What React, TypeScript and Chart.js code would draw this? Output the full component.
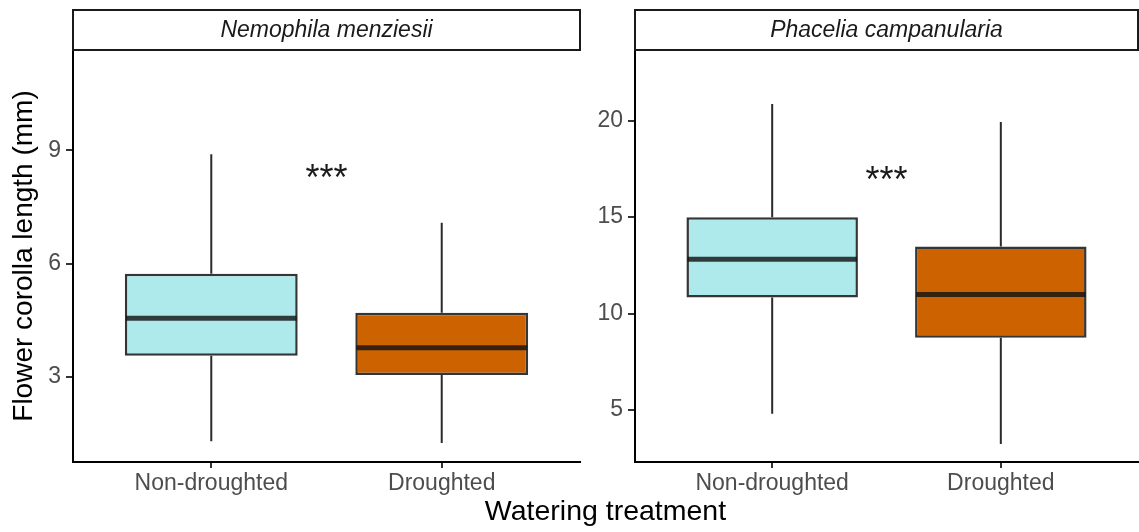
import React, { useEffect, useRef } from "react";
import { Chart, registerables } from "chart.js";

Chart.register(...registerables);

const FONT = '"Liberation Sans", Arial, Helvetica, sans-serif';

// Watering treatments (x categories) and their box fills
const categories = ["Non-droughted", "Droughted"];
const boxFills = ["#AEEAEC", "#CD6200"];

// Nemophila menziesii: five-number summaries per treatment (mm)
const nemophilaMin = [1.3, 1.25];
const nemophilaQ1 = [3.56, 3.05];
const nemophilaMedian = [4.55, 3.77];
const nemophilaQ3 = [5.73, 4.7];
const nemophilaMax = [8.89, 7.08];
const nemophilaTicks = [3, 6, 9];
const nemophilaRange = [0.75, 11.65];
const nemophilaSignifY = 8.2;

// Phacelia campanularia: five-number summaries per treatment (mm)
const phaceliaMin = [4.8, 3.24];
const phaceliaQ1 = [10.83, 8.75];
const phaceliaMedian = [12.81, 10.99];
const phaceliaQ3 = [14.99, 13.48];
const phaceliaMax = [20.87, 19.93];
const phaceliaTicks = [5, 10, 15, 20];
const phaceliaRange = [2.3, 23.67];
const phaceliaSignifY = 16.8;

const signifLabel = "***";
const yTitle = "Flower corolla length (mm)";
const xTitle = "Watering treatment";

type PanelProps = {
  species: string;
  min: number[];
  q1: number[];
  median: number[];
  q3: number[];
  max: number[];
  ticks: number[];
  range: number[];
  signifY: number;
  showYTitle: boolean;
  left: number;
  width: number;
  padRight: number;
  yAxisWidth: number;
};

function Panel(p: PanelProps) {
  const ref = useRef<HTMLCanvasElement>(null);

  useEffect(() => {
    const canvas = ref.current;
    if (!canvas) return;

    // whiskers, medians, significance stars and the facet strip
    const boxplotExtras = {
      id: "boxplotExtras",
      beforeDatasetsDraw(chart: any) {
        const { ctx, scales } = chart;
        const x = scales.x;
        const y = scales.y;
        ctx.save();
        ctx.strokeStyle = "#2B2B2B";
        ctx.lineWidth = 2;
        p.min.forEach((lo: number, i: number) => {
          const px = x.getPixelForValue(i);
          ctx.beginPath();
          ctx.moveTo(px, y.getPixelForValue(p.max[i]));
          ctx.lineTo(px, y.getPixelForValue(p.q3[i]));
          ctx.moveTo(px, y.getPixelForValue(p.q1[i]));
          ctx.lineTo(px, y.getPixelForValue(lo));
          ctx.stroke();
        });
        ctx.restore();
      },
      afterDatasetsDraw(chart: any) {
        const { ctx, scales } = chart;
        const x = scales.x;
        const y = scales.y;
        const meta = chart.getDatasetMeta(0);
        ctx.save();
        ctx.strokeStyle = "rgba(20,20,20,0.82)";
        ctx.lineWidth = 5;
        meta.data.forEach((bar: any, i: number) => {
          const { x: cx, width } = bar.getProps(["x", "width"], true);
          const py = y.getPixelForValue(p.median[i]);
          ctx.beginPath();
          ctx.moveTo(cx - width / 2 + 1, py);
          ctx.lineTo(cx + width / 2 - 1, py);
          ctx.stroke();
        });
        ctx.fillStyle = "#1A1A1A";
        ctx.font = `36px ${FONT}`;
        ctx.textAlign = "center";
        ctx.textBaseline = "middle";
        ctx.fillText(signifLabel, x.getPixelForValue(0.5), y.getPixelForValue(p.signifY));
        ctx.restore();
      },
      afterDraw(chart: any) {
        const { ctx, chartArea } = chart;
        const { left, right, top } = chartArea;
        const stripTop = 10;
        ctx.save();
        ctx.fillStyle = "#FFFFFF";
        ctx.fillRect(left, stripTop, right - left, top - stripTop);
        ctx.strokeStyle = "#1A1A1A";
        ctx.lineWidth = 2;
        ctx.strokeRect(left, stripTop, right - left, top - stripTop);
        ctx.fillStyle = "#1A1A1A";
        ctx.font = `italic 23px ${FONT}`;
        ctx.textAlign = "center";
        ctx.textBaseline = "middle";
        ctx.fillText(p.species, (left + right) / 2, (stripTop + top) / 2 + 1);
        ctx.restore();
      },
    };

    const tickFont = { family: FONT, size: 23 };

    const chart = new Chart(canvas, {
      type: "bar",
      data: {
        datasets: [
          {
            data: categories.map((_, i) => ({ x: i, y: [p.q1[i], p.q3[i]] })) as any,
            backgroundColor: boxFills,
            borderColor: "rgba(18,18,18,0.85)",
            borderWidth: 2.5,
            borderSkipped: false,
            barPercentage: 0.75,
            categoryPercentage: 1,
          },
        ],
      },
      options: {
        responsive: false,
        maintainAspectRatio: false,
        animation: false,
        events: [],
        layout: { padding: { left: 0, top: 50, right: p.padRight, bottom: 0 } },
        plugins: {
          legend: { display: false },
          tooltip: { enabled: false },
        },
        scales: {
          x: {
            type: "linear",
            min: -0.6,
            max: categories.length - 0.4,
            offset: false,
            afterBuildTicks: (s: any) => {
              s.ticks = categories.map((_, i) => ({ value: i }));
            },
            afterFit: (s: any) => {
              s.height = 70;
            },
            grid: {
              display: true,
              offset: false,
              drawOnChartArea: false,
              drawTicks: true,
              tickLength: 6,
              color: "#333333",
              lineWidth: 2,
            },
            border: { display: true, color: "#000000", width: 2 },
            ticks: {
              callback: (v: any) => categories[v] ?? "",
              font: tickFont,
              color: "#4D4D4D",
              padding: 2,
              maxRotation: 0,
              autoSkip: false,
            },
          },
          y: {
            type: "linear",
            min: p.range[0],
            max: p.range[1],
            afterBuildTicks: (s: any) => {
              s.ticks = p.ticks.map((v) => ({ value: v }));
            },
            afterFit: (s: any) => {
              s.width = p.yAxisWidth;
            },
            grid: {
              display: true,
              drawOnChartArea: false,
              drawTicks: true,
              tickLength: 7,
              color: "#333333",
              lineWidth: 2,
            },
            border: { display: true, color: "#000000", width: 2 },
            ticks: { font: tickFont, color: "#4D4D4D", padding: 5 },
            title: {
              display: p.showYTitle,
              text: yTitle,
              color: "#000000",
              font: { family: FONT, size: 28 },
              padding: { top: 7, bottom: 0 },
            },
          },
        },
      } as any,
      plugins: [boxplotExtras],
    });

    return () => chart.destroy();
  }, []);

  return (
    <canvas
      ref={ref}
      width={p.width}
      height={532}
      style={{ position: "absolute", left: p.left, top: 0, width: p.width, height: 532 }}
    />
  );
}

export default function App() {
  return (
    <div style={{ position: "fixed", left: 0, top: 0, width: 1139, height: 532, background: "#FFFFFF", overflow: "hidden" }}>
      <Panel
        species="Nemophila menziesii"
        min={nemophilaMin}
        q1={nemophilaQ1}
        median={nemophilaMedian}
        q3={nemophilaQ3}
        max={nemophilaMax}
        ticks={nemophilaTicks}
        range={nemophilaRange}
        signifY={nemophilaSignifY}
        showYTitle={true}
        left={0}
        width={600}
        padRight={20}
        yAxisWidth={73}
      />
      <Panel
        species="Phacelia campanularia"
        min={phaceliaMin}
        q1={phaceliaQ1}
        median={phaceliaMedian}
        q3={phaceliaQ3}
        max={phaceliaMax}
        ticks={phaceliaTicks}
        range={phaceliaRange}
        signifY={phaceliaSignifY}
        showYTitle={false}
        left={560}
        width={579}
        padRight={1}
        yAxisWidth={75}
      />
      <div
        style={{
          position: "absolute",
          left: 73,
          width: 1065,
          top: 496,
          textAlign: "center",
          fontFamily: FONT,
          fontSize: "28.5px",
          lineHeight: "28.5px",
          color: "#000000",
          whiteSpace: "nowrap",
        }}
      >
        {xTitle}
      </div>
    </div>
  );
}
